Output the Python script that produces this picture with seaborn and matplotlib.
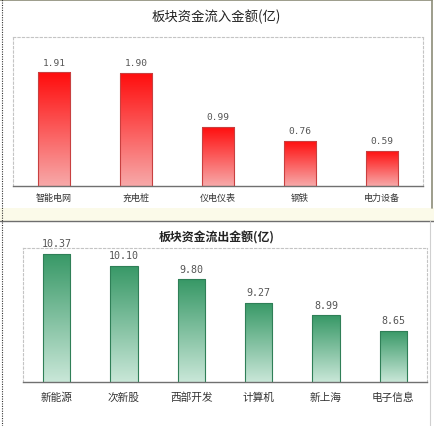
import numpy as np
import pandas as pd
import matplotlib
matplotlib.use("Agg")
from matplotlib import pyplot as plt
from matplotlib.colors import LinearSegmentedColormap
from matplotlib.patches import Rectangle
from matplotlib.lines import Line2D
import seaborn as sns

# data
inflow_sectors = ["智能电网", "充电桩", "仪电仪表", "钢铁", "电力设备"]
inflow_values = [1.91, 1.90, 0.99, 0.76, 0.59]
outflow_sectors = ["新能源", "次新股", "西部开发", "计算机", "新上海", "电子信息"]
outflow_values = [10.37, 10.10, 9.80, 9.27, 8.99, 8.65]

sns.set_style("white")
plt.rcParams['font.family'] = ['Noto Sans CJK SC', 'DejaVu Sans']

W, H = 434, 427
fig = plt.figure(figsize=(W / 100, H / 100), dpi=100)
fig.patch.set_facecolor("white")


def px_axes(left, top, right, bottom):
    return fig.add_axes([left / W, 1 - bottom / H, (right - left) / W, (bottom - top) / H])


def gradient_bars(ax, top_col, bot_col, edge):
    cmap = LinearSegmentedColormap.from_list("g", [bot_col, top_col])
    grad = np.linspace(0, 1, 256).reshape(-1, 1)
    y0 = ax.get_ylim()[0]
    for p in ax.patches:
        x = p.get_x()
        w = p.get_width()
        h = p.get_height()
        p.set_facecolor("none")
        p.set_edgecolor(edge)
        p.set_linewidth(0.8)
        im = ax.imshow(grad, extent=(x, x + w, max(y0, 0), h), origin="lower",
                       cmap=cmap, aspect="auto", zorder=1)
        im.set_clip_path(p)
        p.set_zorder(2)


def style_frame(ax):
    for s in ["top", "left", "right"]:
        ax.spines[s].set_linestyle((0, (2, 2)))
        ax.spines[s].set_color("#c4c4c4")
        ax.spines[s].set_linewidth(0.8)
    ax.spines["bottom"].set_color("#707070")
    ax.spines["bottom"].set_linewidth(1.0)
    ax.set_yticks([])
    ax.set_xlabel("")
    ax.set_ylabel("")
    ax.tick_params(axis="x", length=0)
    ax.set_facecolor("white")


# panel decorations
fig.patches.append(Rectangle((0, 1 - 222 / H), 1, 13 / H, transform=fig.transFigure,
                             facecolor="#fbfae9", edgecolor="none", zorder=0))
fig.lines.append(Line2D([0, 432 / W], [1 - 1 / H, 1 - 1 / H], transform=fig.transFigure,
                        color="#8c8c78", lw=1.2))
fig.lines.append(Line2D([432 / W, 432 / W], [1 - 1 / H, 1 - 209 / H], transform=fig.transFigure,
                        color="#8c8c78", lw=1.2))
fig.lines.append(Line2D([0, 1], [1 - 222 / H, 1 - 222 / H], transform=fig.transFigure,
                        color="#6e6e6e", lw=1.0))
fig.lines.append(Line2D([430 / W, 430 / W], [1 - 222 / H, 0], transform=fig.transFigure,
                        color="#d0d0d0", lw=0.8))
fig.lines.append(Line2D([1.5 / W, 1.5 / W], [0, 1], transform=fig.transFigure,
                        color="#333333", lw=0.8, linestyle=(0, (1, 1.2))))

# top chart: inflow
ax1 = px_axes(13, 38, 423, 187)
df1 = pd.DataFrame({"sector": inflow_sectors, "value": inflow_values})
sns.barplot(data=df1, x="sector", y="value", ax=ax1, width=0.4, color="red")
ax1.set_xlim(-0.5, len(inflow_sectors) - 0.5)
ax1.set_ylim(0, 2.5)
gradient_bars(ax1, "#ff0c0c", "#f7a9a9", "#c84040")
style_frame(ax1)
ax1.tick_params(axis="x", labelsize=6.5, labelcolor="#333333", pad=5)
for x, v in enumerate(inflow_values):
    ax1.annotate(f"{v:.2f}", (x, v), xytext=(0, 4), textcoords="offset points",
                 ha="center", va="bottom", fontsize=6.8, color="#555555",
                 family="DejaVu Sans Mono")
fig.text(216 / W, 1 - 17 / H, "板块资金流入金额(亿)", ha="center", va="center",
         fontsize=9.6, color="#222222")

# bottom chart: outflow
ax2 = px_axes(23, 249, 427, 383)
df2 = pd.DataFrame({"sector": outflow_sectors, "value": outflow_values})
sns.barplot(data=df2, x="sector", y="value", ax=ax2, width=0.41, color="green")
ax2.set_xlim(-0.5, len(outflow_sectors) - 0.5)
ax2.set_ylim(7.5, 10.5)
gradient_bars(ax2, "#379866", "#c9e7d8", "#2f7f57")
style_frame(ax2)
ax2.tick_params(axis="x", labelsize=7.7, labelcolor="#333333", pad=7)
for x, v in enumerate(outflow_values):
    ax2.annotate(f"{v:.2f}", (x, v), xytext=(0, 4), textcoords="offset points",
                 ha="center", va="bottom", fontsize=7.2, color="#555555",
                 family="DejaVu Sans Mono", annotation_clip=False)
fig.text(217 / W, 1 - 238 / H, "板块资金流出金额(亿)", ha="center", va="center",
         fontsize=8.6, color="#222222", fontweight="bold")

fig.savefig("out.png", dpi=100)
